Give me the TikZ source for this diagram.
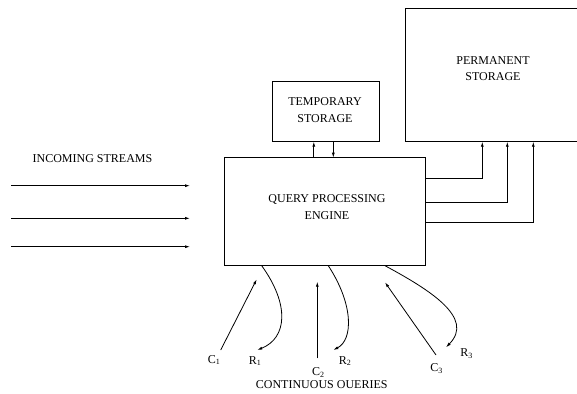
\documentclass[tikz,border=0pt]{standalone}
\usepackage{fontspec}
\setmainfont{Liberation Serif}
\usetikzlibrary{arrows.meta,calc,positioning}

\begin{document}
\begin{tikzpicture}[x=1pt, y=-1pt, line width=0.8pt,
  box/.style={draw=black, rectangle, inner sep=0pt, outer sep=0pt, align=center, font=\fontsize{12}{16.5}\selectfont},
  lbl/.style={inner sep=1pt, font=\fontsize{12}{14}\selectfont},
  arr/.style={-{Latex[length=5pt, width=3pt]}}]
  \useasboundingbox (0,0) rectangle (577,393);

  \node[box, minimum width=201.7pt, minimum height=108pt] (qpe) at (324.85,211.7) {};
  \node[box, minimum width=107pt, minimum height=60pt] (tmp) at (325.8,111.7) {};
  \node[box, minimum width=177pt, minimum height=133.4pt] (perm) at (493.5,75) {};

  \node[lbl, align=center, font=\fontsize{12}{16.5}\selectfont] (qpetxt) at (327,207) {QUERY PROCESSING\\ENGINE};
  \node[lbl, align=center, font=\fontsize{12}{16.5}\selectfont] (tmptxt) at (325,110) {TEMPORARY\\STORAGE};
  \node[lbl, align=center, font=\fontsize{12}{16.5}\selectfont] (permtxt) at (493,68.5) {PERMANENT\\STORAGE};

  % to and from the temporary storage
  \draw[arr] ([xshift=-12pt]qpe.north -| tmp.south) -- ([xshift=-12pt]tmp.south);
  \draw[arr] ([xshift=7.5pt]tmp.south) -- ([xshift=7.5pt]tmp.south |- qpe.north);

  % to the permanent storage
  \draw[arr] (qpe.east |- 0,178.3) -| ([xshift=-11.2pt]perm.south);
  \draw[arr] (qpe.east |- 0,202.3) -| ([xshift=13.8pt]perm.south);
  \draw[arr] (qpe.east |- 0,222.3) -| ([xshift=39.8pt]perm.south);

  % incoming streams
  \node[lbl] (instr) at (92.5,158.3) {INCOMING STREAMS};
  \coordinate (in1) at (11,185.7);
  \coordinate (in2) at (11,218.3);
  \coordinate (in3) at (11,246.7);
  \coordinate (out1) at (190,185.7);
  \coordinate (out2) at (190,218.3);
  \coordinate (out3) at (190,246.7);
  \draw[arr] (in1) -- (out1);
  \draw[arr] (in2) -- (out2);
  \draw[arr] (in3) -- (out3);

  % continuous queries
  \node[lbl] (c1) at (214,360) {C\textsubscript{1}};
  \node[lbl] (r1) at (255,361) {R\textsubscript{1}};
  \node[lbl] (c2) at (318.3,372.7) {C\textsubscript{2}};
  \node[lbl] (r2) at (345,361) {R\textsubscript{2}};
  \node[lbl] (c3) at (436.7,368.3) {C\textsubscript{3}};
  \node[lbl] (r3) at (466.7,353.3) {R\textsubscript{3}};
  \node[lbl] (cq) at (321.7,385) {CONTINUOUS OUERIES};

  \coordinate (c1a) at (220.7,350);
  \coordinate (c1b) at (256.7,279.3);
  \coordinate (c2a) at (317.3,358.3);
  \coordinate (c2b) at (317.3,281.7);
  \coordinate (c3a) at (436,355);
  \coordinate (c3b) at (385,282.3);
  \draw[arr] (c1a) -- (c1b);
  \draw[arr] (c2a) -- (c2b);
  \draw[arr] (c3a) -- (c3b);

  \draw[arr] (qpe.south -| 261.7,0) .. controls (290,305) and (287,338) .. (257.3,350);
  \draw[arr] (qpe.south -| 328.3,0) .. controls (354,305) and (353,340) .. (333.3,350);
  \draw[arr] (qpe.south -| 385,0) .. controls (430,290) and (475,318) .. (446,347.3);

\end{tikzpicture}
\end{document}
